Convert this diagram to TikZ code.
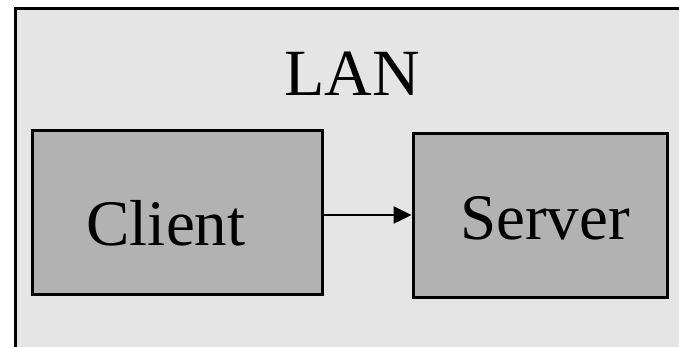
\documentclass[tikz,border=0pt]{standalone}
\usepackage{fontspec}
\setmainfont{Liberation Serif}
\usetikzlibrary{arrows.meta}
\definecolor{lanfill}{HTML}{E5E5E5}
\definecolor{hostfill}{HTML}{B2B2B2}
\tikzset{
  hostbox/.style={draw=black, line width=3pt, fill=hostfill, inner sep=0pt},
  bigtext/.style={font=\fontsize{65}{65}\selectfont, inner sep=0pt, anchor=base},
  link/.style={line width=2.5pt, -{Triangle[length=18pt,width=17pt]}}
}
\begin{document}
\begin{tikzpicture}[x=1pt, y=-1pt]
  \useasboundingbox (0,0) rectangle (679,346);
  \begin{scope}
    \clip (0,0) rectangle (679,346);
    % network area, running off the right and bottom edges
    \node[draw=black, line width=3pt, fill=lanfill, inner sep=0pt,
          minimum width=700pt, minimum height=380pt, anchor=north west]
      (lan) at (14,7) {};
  \end{scope}
  \node[bigtext, font=\fontsize{66}{66}\selectfont] (lanlabel) at (352,95) {LAN};
  % the two hosts
  \node[hostbox, minimum width=290pt, minimum height=164pt] (client) at (177,212) {};
  \node[hostbox, minimum width=254pt, minimum height=164pt] (server) at (540,215) {};
  \node[bigtext] (clientlabel) at (166,245) {Client};
  \node[bigtext] (serverlabel) at (545,239) {Server};
  % request from client to server
  \draw[link] (client.east |- server.west) -- (server.west);
\end{tikzpicture}
\end{document}
